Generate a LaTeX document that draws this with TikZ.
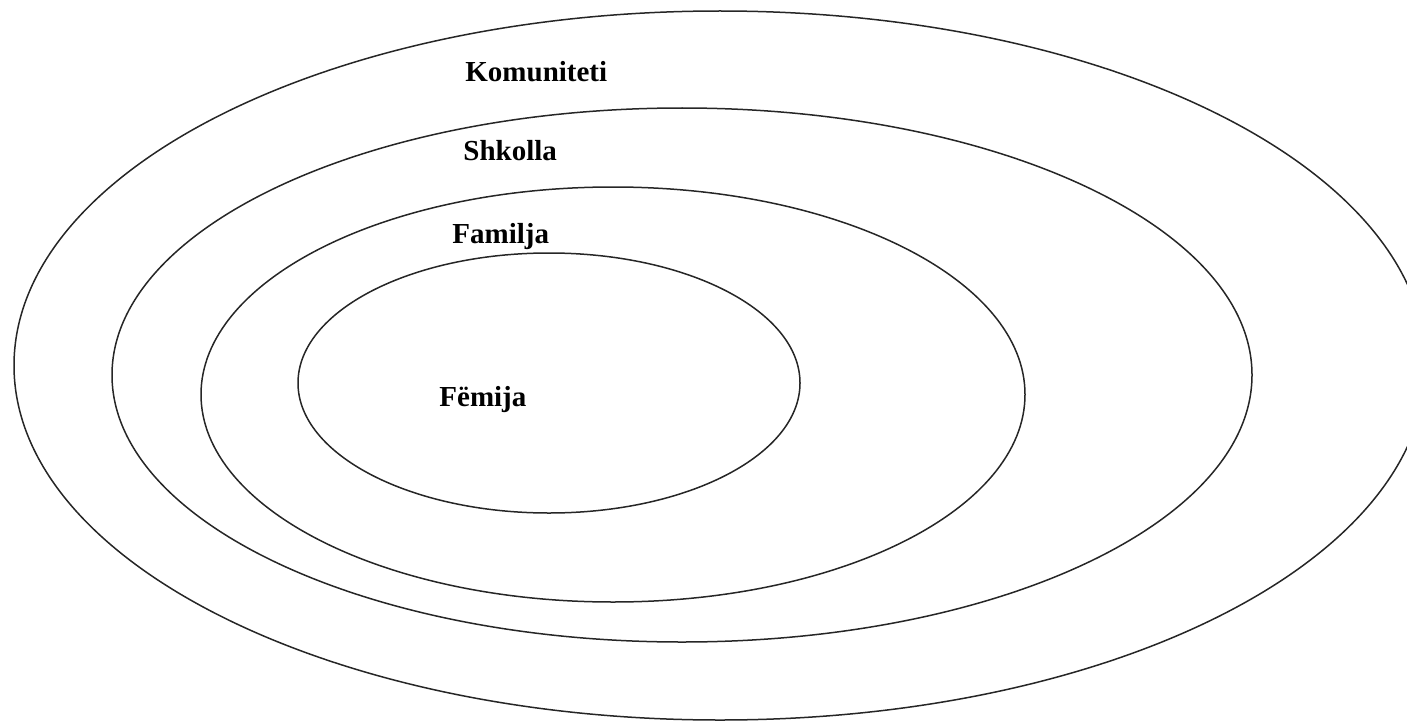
\documentclass[tikz,border=0pt]{standalone}
\usepackage{fontspec}
\setmainfont{Liberation Serif}
\begin{document}
\begin{tikzpicture}[x=0.5pt,y=-0.5pt,
  ring/.style={draw=black!85,line width=0.75pt},
  lbl/.style={anchor=base west,inner sep=0pt,font=\fontsize{14.5pt}{17pt}\selectfont\bfseries}]
\useasboundingbox (0,0) rectangle (1407,722);
\clip (0,0) rectangle (1407,722);
\draw[ring] (720,365.5) ellipse [x radius=706, y radius=354.5];
\draw[ring] (682,375) ellipse [x radius=570, y radius=267];
\draw[ring] (613,394.5) ellipse [x radius=412, y radius=207.5];
\draw[ring] (549,383) ellipse [x radius=251, y radius=130];
\node[lbl] (k) at (465,82) {Komuniteti};
\node[lbl] (s) at (463,160) {Shkolla};
\node[lbl] (f) at (452,243) {Familja};
\node[lbl] (c) at (439,406) {Fëmija};
\end{tikzpicture}
\end{document}
